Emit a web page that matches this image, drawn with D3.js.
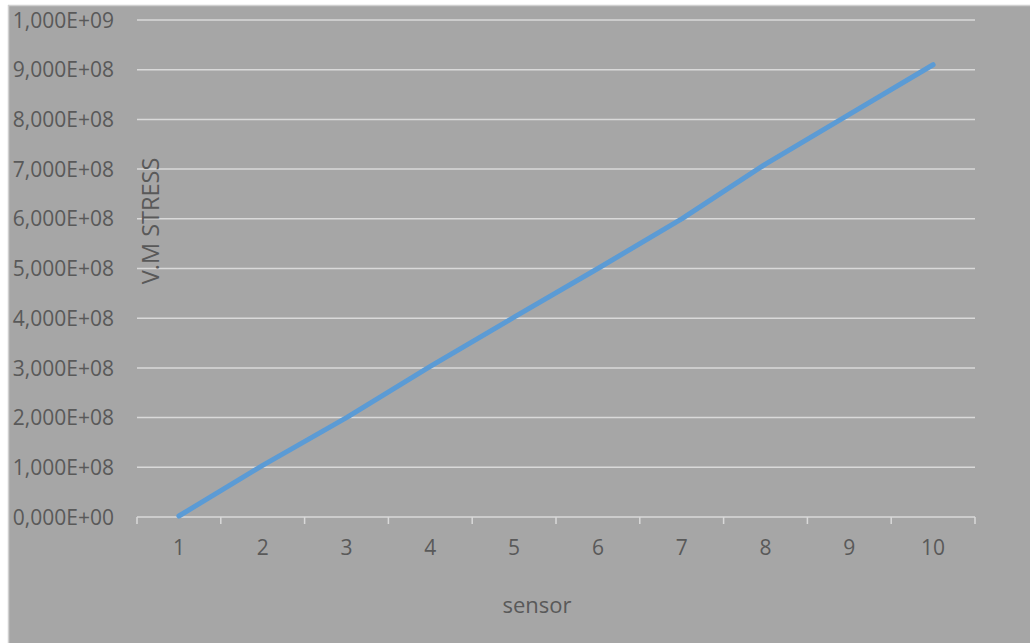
<!DOCTYPE html>
<html>
<head>
<meta charset="utf-8">
<script src="https://cdn.jsdelivr.net/npm/d3@7"></script>
<style>
  html, body { margin: 0; padding: 0; background: #ffffff; }
  svg { display: block; }
  text { font-family: "Open Sans", "Liberation Sans", sans-serif; fill: #595959; }
</style>
</head>
<body>
<svg id="chart" width="1030" height="643"></svg>
<script>
// Sensor positions along the x axis
const sensors = [1, 2, 3, 4, 5, 6, 7, 8, 9, 10];
// Von Mises stress per sensor
const stress = [2e6, 1.04e8, 2.0e8, 3.03e8, 4.02e8, 5.0e8, 6.0e8, 7.1e8, 8.1e8, 9.1e8];
// Value axis ticks
const yTicks = [0, 1e8, 2e8, 3e8, 4e8, 5e8, 6e8, 7e8, 8e8, 9e8, 1e9];

const xTitle = "sensor";
const yTitle = "V.M STRESS";

const svg = d3.select("#chart");
const W = 1030, H = 643;
const plot = { left: 137, right: 975, top: 20, bottom: 517 };

// chart area background
svg.append("rect")
  .attr("x", 8).attr("y", 5)
  .attr("width", W - 8).attr("height", H - 5)
  .attr("fill", "#a6a6a6");
svg.append("line")
  .attr("x1", 8.5).attr("x2", 8.5).attr("y1", 5).attr("y2", H)
  .attr("stroke", "#d0d0d0").attr("stroke-width", 1.5);
svg.append("line")
  .attr("x1", 8).attr("x2", W).attr("y1", 5.5).attr("y2", 5.5)
  .attr("stroke", "#d0d0d0").attr("stroke-width", 1.5);

const x = d3.scaleBand()
  .domain(sensors)
  .range([plot.left, plot.right])
  .paddingInner(0).paddingOuter(0);

const y = d3.scaleLinear()
  .domain([0, 1e9])
  .range([plot.bottom, plot.top]);

// format like 1,000E+09 (comma decimal separator)
function sciLabel(v) {
  if (v === 0) return "0,000E+00";
  const e = Math.floor(Math.log10(v));
  const m = v / Math.pow(10, e);
  return m.toFixed(3).replace(".", ",") + "E+" + String(e).padStart(2, "0");
}

// horizontal gridlines
svg.append("g")
  .selectAll("line")
  .data(yTicks.filter(d => d > 0))
  .join("line")
  .attr("x1", plot.left).attr("x2", plot.right)
  .attr("y1", d => y(d)).attr("y2", d => y(d))
  .attr("stroke", "#d9d9d9").attr("stroke-width", 1.5);

// y axis labels
const yAxis = d3.axisLeft(y).tickValues(yTicks).tickFormat(sciLabel).tickSize(0).tickPadding(23);
const gy = svg.append("g").attr("transform", `translate(${plot.left},0)`).call(yAxis);
gy.select(".domain").remove();
gy.selectAll("text")
  .style("font-size", "21px")
  .style("font-family", null)
  .attr("fill", "#595959")
  .attr("dy", "0.34em");
gy.attr("font-family", null).attr("font-size", null);

// x axis: baseline with category boundary ticks
const gx = svg.append("g");
gx.append("line")
  .attr("x1", plot.left).attr("x2", plot.right)
  .attr("y1", plot.bottom).attr("y2", plot.bottom)
  .attr("stroke", "#d9d9d9").attr("stroke-width", 1.5);
const bounds = sensors.map(s => x(s)).concat([x(sensors[sensors.length - 1]) + x.bandwidth()]);
gx.selectAll("line.tick")
  .data(bounds)
  .join("line")
  .attr("class", "tick")
  .attr("x1", d => d).attr("x2", d => d)
  .attr("y1", plot.bottom).attr("y2", plot.bottom + 7)
  .attr("stroke", "#d9d9d9").attr("stroke-width", 1.5);
gx.selectAll("text")
  .data(sensors)
  .join("text")
  .attr("x", d => x(d) + x.bandwidth() / 2)
  .attr("y", 555)
  .attr("text-anchor", "middle")
  .style("font-size", "21px")
  .text(d => d);

// data line
const line = d3.line()
  .x((d, i) => x(sensors[i]) + x.bandwidth() / 2)
  .y(d => y(d));
svg.append("path")
  .datum(stress)
  .attr("d", line)
  .attr("fill", "none")
  .attr("stroke", "#5b9bd5")
  .attr("stroke-width", 5)
  .attr("stroke-linecap", "round")
  .attr("stroke-linejoin", "round");

// axis titles
svg.append("text")
  .attr("x", 537).attr("y", 613)
  .attr("text-anchor", "middle")
  .style("font-size", "22px")
  .text(xTitle);

svg.append("text")
  .attr("transform", "translate(159,221) rotate(-90)")
  .attr("text-anchor", "middle")
  .style("font-size", "23.5px")
  .text(yTitle);
</script>
</body>
</html>
